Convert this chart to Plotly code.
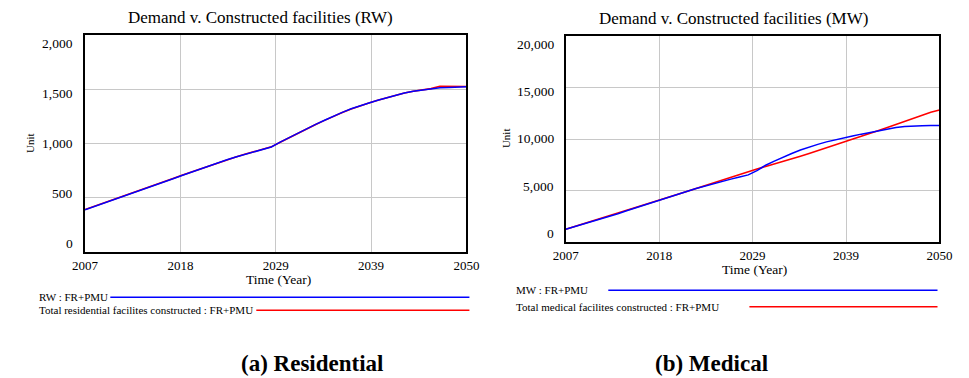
import plotly.graph_objects as go

# ---- data -------------------------------------------------------------
years = list(range(2007, 2051))

# Residential (RW): demand vs. constructed facilities, scenario FR+PMU
rw_demand = [390, 418, 446, 474, 503, 532, 561, 590, 619, 648,
             677, 707, 737, 766, 795, 823, 850, 875, 899, 922,
             945, 968, 1013, 1055, 1095, 1136, 1176, 1214, 1252, 1287,
             1320, 1350, 1373, 1398, 1422, 1446, 1465, 1481, 1494, 1504,
             1514, 1517, 1520, 1522]
rw_built = [392, 420, 448, 476, 505, 534, 563, 592, 621, 650,
            679, 709, 738, 767, 796, 824, 851, 876, 900, 923,
            946, 969, 1011, 1053, 1094, 1135, 1175, 1213, 1251, 1286,
            1319, 1349, 1374, 1399, 1423, 1446, 1466, 1482, 1496, 1506,
            1528, 1529, 1529, 1526]

# Medical (MW): demand vs. constructed facilities, scenario FR+PMU
mw_demand = [1270, 1510, 1760, 2010, 2260, 2510, 2780, 3060, 3340, 3610,
             3860, 4110, 4390, 4670, 4950, 5220, 5460, 5720, 5930, 6130,
             6330, 6540, 6950, 7480, 7870, 8270, 8620, 8950, 9240, 9500,
             9740, 9950, 10120, 10310, 10490, 10660, 10830, 10990, 11130, 11230,
             11290, 11310, 11320, 11320]
mw_built = [1270, 1530, 1790, 2040, 2290, 2540, 2810, 3080, 3350, 3620,
            3880, 4130, 4400, 4680, 4960, 5230, 5500, 5780, 6080, 6360,
            6620, 6870, 7120, 7360, 7590, 7830, 8090, 8350, 8610, 8880,
            9150, 9420, 9690, 9970, 10260, 10550, 10840, 11130, 11430, 11740,
            12040, 12330, 12610, 12830]

x_tickvals = [2007, 2017.75, 2028.5, 2039.25, 2050]
x_ticktext = ["2007", "2018", "2029", "2039", "2050"]
rw_yticks = [0, 500, 1000, 1500, 2000]
mw_yticks = [0, 5000, 10000, 15000, 20000]

titles = ["Demand v. Constructed facilities (RW)", "Demand v. Constructed facilities (MW)"]
legend_rw = ["RW : FR+PMU", "Total residential facilites constructed : FR+PMU"]
legend_mw = ["MW : FR+PMU", "Total medical facilites constructed : FR+PMU"]
captions = ["(a) Residential", "(b) Medical"]

# ---- layout helpers (pixel -> paper) ---------------------------------
W, H = 969, 378
SERIF = "'Liberation Serif', 'Times New Roman', Times, 'DejaVu Serif', serif"
BLUE, RED = "#0000ff", "#ff0000"


def px(x):
    return x / W


def py(y):
    return 1 - y / H


fig = go.Figure()

# panel geometry in pixels: left, right, top, bottom
panels = [
    dict(box=(74, 466, 35, 252), xa="x", ya="y", data=(rw_demand, rw_built),
         yticks=rw_yticks, ymax=2000, lab_right=64, lab_top=43.3, lab_bot=243.3,
         title=titles[0], title_xy=(254, 17.5), unit_xy=(17.5, 143),
         xtitle_xy=(272.7, 279.3), legend=legend_rw, leg_x=25,
         leg_y=(297.3, 310.3), leg_line=((100, 469), (250, 469)),
         caption=captions[0], cap_x=307),
    dict(box=(568, 952, 36, 242.4), xa="x2", ya="y2", data=(mw_demand, mw_built),
         yticks=mw_yticks, ymax=20000, lab_right=558.3, lab_top=44.3, lab_bot=233.3,
         title=titles[1], title_xy=(740, 18.3), unit_xy=(506.7, 138),
         xtitle_xy=(761.7, 269.3), legend=legend_mw, leg_x=515,
         leg_y=(290.3, 306.7), leg_line=((611.7, 950), (756.7, 950)),
         caption=captions[1], cap_x=718),
]

annotations = []
shapes = []

for i, p in enumerate(panels):
    l, r, t, b = p["box"]
    demand, built = p["data"]
    # constructed (red) below, demand (blue) on top
    fig.add_trace(go.Scatter(x=years, y=built, mode="lines", xaxis=p["xa"], yaxis=p["ya"],
                             line=dict(color=RED, width=1.6), showlegend=False))
    fig.add_trace(go.Scatter(x=years, y=demand, mode="lines", xaxis=p["xa"], yaxis=p["ya"],
                             line=dict(color=BLUE, width=1.5), showlegend=False))

    axis_common = dict(showline=True, linecolor="black", linewidth=2, mirror=True,
                       showgrid=True, gridcolor="#c8c8c8", gridwidth=1,
                       zeroline=False, ticks="", fixedrange=True)
    xkey = "xaxis" if i == 0 else "xaxis2"
    ykey = "yaxis" if i == 0 else "yaxis2"
    fig.update_layout(**{
        xkey: dict(domain=[px(l), px(r)], range=[2007, 2050], anchor=p["ya"],
                   tickmode="array", tickvals=x_tickvals, ticktext=x_ticktext,
                   tickfont=dict(family=SERIF, size=13, color="black"), **axis_common),
        ykey: dict(domain=[py(b), py(t)], range=[0, p["ymax"]], anchor=p["xa"],
                   tickmode="array", tickvals=p["yticks"], showticklabels=False,
                   **axis_common),
    })

    # y tick labels, spread evenly down the frame
    for v in p["yticks"]:
        yy = p["lab_bot"] - (p["lab_bot"] - p["lab_top"]) * v / p["ymax"]
        annotations.append(dict(x=px(p["lab_right"]), y=py(yy), xref="paper", yref="paper",
                                text=f"{v:,}", showarrow=False, xanchor="right", yanchor="middle",
                                font=dict(family=SERIF, size=13.5, color="black")))

    # title
    annotations.append(dict(x=px(p["title_xy"][0]), y=py(p["title_xy"][1]), xref="paper",
                            yref="paper", text=p["title"], showarrow=False,
                            xanchor="center", yanchor="middle",
                            font=dict(family=SERIF, size=17, color="black")))
    # y-axis unit
    annotations.append(dict(x=px(p["unit_xy"][0]), y=py(p["unit_xy"][1]), xref="paper",
                            yref="paper", text="Unit", showarrow=False, textangle=-90,
                            xanchor="center", yanchor="middle",
                            font=dict(family=SERIF, size=11, color="black")))
    # x-axis title
    annotations.append(dict(x=px(p["xtitle_xy"][0]), y=py(p["xtitle_xy"][1]), xref="paper",
                            yref="paper", text="Time (Year)", showarrow=False,
                            xanchor="center", yanchor="middle",
                            font=dict(family=SERIF, size=13.5, color="black")))
    # legend entries: label + coloured line sample
    for label, ly, (x0, x1), col in zip(p["legend"], p["leg_y"], p["leg_line"], (BLUE, RED)):
        annotations.append(dict(x=px(p["leg_x"]), y=py(ly), xref="paper", yref="paper",
                                text=label, showarrow=False, xanchor="left", yanchor="middle",
                                font=dict(family=SERIF, size=11, color="black")))
        shapes.append(dict(type="line", xref="paper", yref="paper",
                           x0=px(x0), x1=px(x1), y0=py(ly), y1=py(ly),
                           line=dict(color=col, width=1.4)))
    # panel caption
    annotations.append(dict(x=px(p["cap_x"]), y=py(363), xref="paper", yref="paper",
                            text=f"<b>{p['caption']}</b>", showarrow=False,
                            xanchor="center", yanchor="middle",
                            font=dict(family=SERIF, size=23, color="black")))

fig.update_layout(width=W, height=H, margin=dict(l=0, r=0, t=0, b=0),
                  paper_bgcolor="white", plot_bgcolor="white",
                  annotations=annotations, shapes=shapes, showlegend=False)

fig.write_html("out.html", config={"displayModeBar": False})
